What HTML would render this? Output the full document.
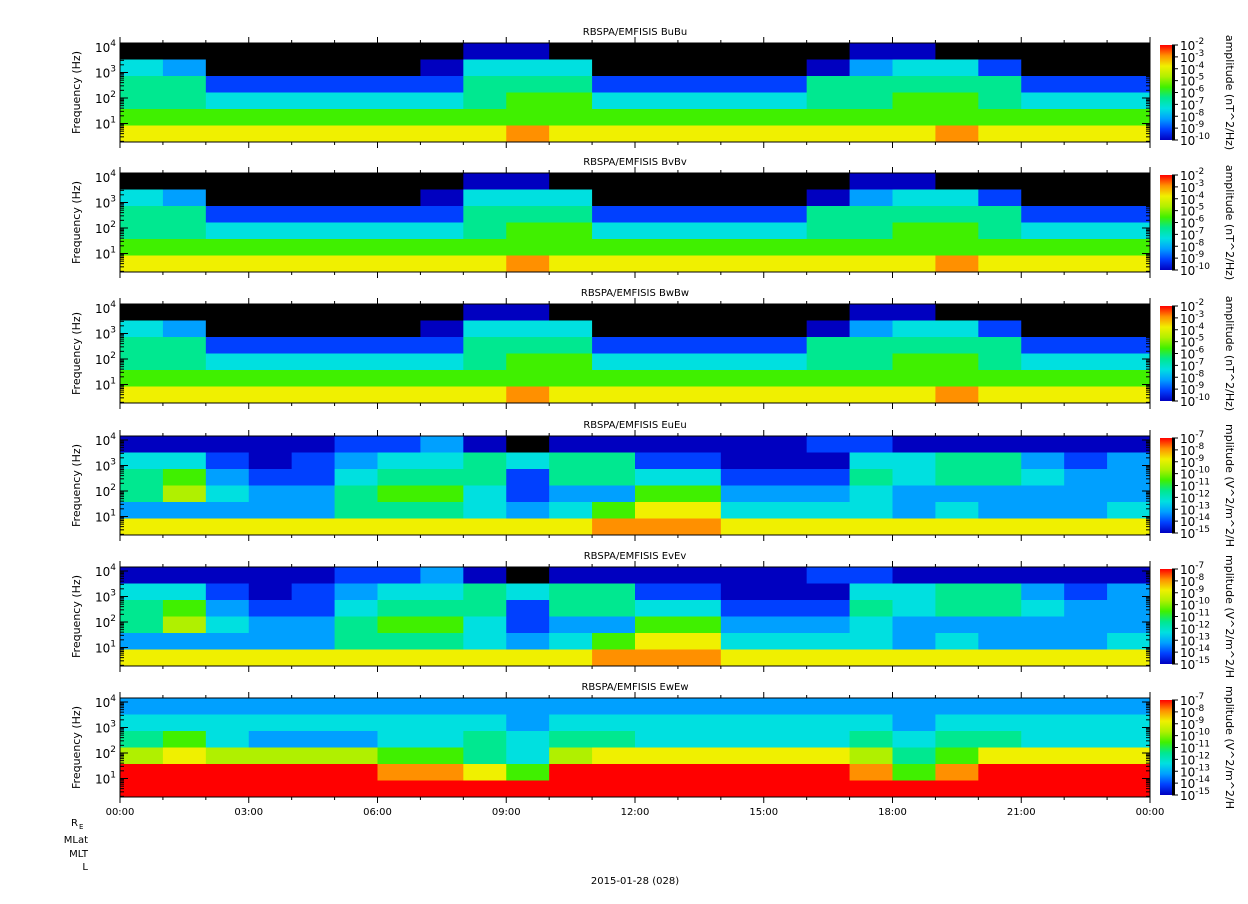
<!DOCTYPE html>
<html><head><meta charset="utf-8"><style>
body{margin:0;background:#fff;width:1248px;height:899px;overflow:hidden;font-family:"Liberation Sans",sans-serif}
svg text{font-family:"DejaVu Sans","Liberation Sans",sans-serif;fill:#000}
</style></head><body>
<svg id="chart" width="1248" height="899" xmlns="http://www.w3.org/2000/svg"></svg>
<script>
// time bins (hours), 24 hourly columns; rows top (high freq) to bottom (low freq); values = colour level 0..10
const hours = [0,1,2,3,4,5,6,7,8,9,10,11,12,13,14,15,16,17,18,19,20,21,22,23];
const bRow0 = [0,0,0,0,0,0,0,0,1,1,0,0,0,0,0,0,0,1,1,0,0,0,0,0];
const bRow1 = [4,3,0,0,0,0,0,1,4,4,4,0,0,0,0,0,1,3,4,4,2,0,0,0];
const bRow2 = [5,5,2,2,2,2,2,2,5,5,5,2,2,2,2,2,5,5,5,5,5,2,2,2];
const bRow3 = [5,5,4,4,4,4,4,4,5,6,6,4,4,4,4,4,5,5,6,6,5,4,4,4];
const bRow4 = [6,6,6,6,6,6,6,6,6,6,6,6,6,6,6,6,6,6,6,6,6,6,6,6];
const bRow5 = [8,8,8,8,8,8,8,8,8,9,8,8,8,8,8,8,8,8,8,9,8,8,8,8];
const eRow0 = [1,1,1,1,1,2,2,3,1,0,1,1,1,1,1,1,2,2,1,1,1,1,1,1];
const eRow1 = [4,4,2,1,2,3,4,4,5,4,5,5,2,2,1,1,1,4,4,5,5,3,2,3];
const eRow2 = [5,6,3,2,2,4,5,5,5,2,5,5,4,4,2,2,2,5,4,5,5,4,3,3];
const eRow3 = [5,7,4,3,3,5,6,6,4,2,3,3,6,6,3,3,3,4,3,3,3,3,3,3];
const eRow4 = [3,3,3,3,3,5,5,5,4,3,4,6,8,8,4,4,4,4,3,4,3,3,3,4];
const eRow5 = [8,8,8,8,8,8,8,8,8,8,8,9,9,9,8,8,8,8,8,8,8,8,8,8];
const wRow0 = [3,3,3,3,3,3,3,3,3,3,3,3,3,3,3,3,3,3,3,3,3,3,3,3];
const wRow1 = [4,4,4,4,4,4,4,4,4,3,4,4,4,4,4,4,4,4,3,4,4,4,4,4];
const wRow2 = [5,6,4,3,3,3,4,4,5,4,5,5,4,4,4,4,4,5,4,5,5,4,4,4];
const wRow3 = [7,8,7,7,7,7,6,6,5,4,7,8,8,8,8,8,8,7,5,6,8,8,8,8];
const wRow4 = [10,10,10,10,10,10,9,9,8,6,10,10,10,10,10,10,10,9,6,9,10,10,10,10];
const wRow5 = [10,10,10,10,10,10,10,10,10,10,10,10,10,10,10,10,10,10,10,10,10,10,10,10];
const titles = ["BuBu","BvBv","BwBw","EuEu","EvEv","EwEw"];
const timeTicks = ["00:00","03:00","06:00","09:00","12:00","15:00","18:00","21:00","00:00"];
const bExps = ["-2","-3","-4","-5","-6","-7","-8","-9","-10"];
const eExps = ["-7","-8","-9","-10","-11","-12","-13","-14","-15"];
const freqExps = ["4","3","2","1"];

const grids = {B:[bRow0,bRow1,bRow2,bRow3,bRow4,bRow5],E:[eRow0,eRow1,eRow2,eRow3,eRow4,eRow5],W:[wRow0,wRow1,wRow2,wRow3,wRow4,wRow5]};
const kinds = ["B","B","B","E","E","W"];
const cmap = ["#000000","#0000c0","#0040ff","#00a0ff","#00e0e0","#00e890","#40f000","#b0f000","#f0f000","#ff9000","#ff0000"];
const NS="http://www.w3.org/2000/svg";
const svg=document.getElementById('chart');
const X0=120,W=1030,H=99,tops=[43,173,304,436,567,698];
const xT=h=>X0+h/24*W;
function el(t,a,p){const e=document.createElementNS(NS,t);for(const k in a)e.setAttribute(k,a[k]);(p||svg).appendChild(e);return e;}
const defs=el('defs',{});
const lg=el('linearGradient',{id:'cb',x1:0,y1:1,x2:0,y2:0},defs);
cmap.slice(1).forEach((c,i)=>el('stop',{offset:i/9,'stop-color':c},lg));

tops.forEach((top,p)=>{
  const g=el('g',{});
  
  
  const rows=grids[kinds[p]];const rh=H/rows.length;
  rows.forEach((row,r)=>row.forEach((v,i)=>{
    const c=el('rect',{x:xT(hours[i]),y:top+r*rh,width:W/24+0.5,height:rh+0.5,fill:cmap[v]},g);
    
    
  }));
  el('rect',{x:X0,y:top,width:W,height:H,fill:'none',stroke:'#000','stroke-width':1},g);
  const t=el('text',{x:X0+W/2,y:top-8,'font-size':10,'text-anchor':'middle'},g);
  t.textContent='RBSPA/EMFISIS  '+titles[p];
  
  
  freqExps.forEach((e,i)=>{
    const y=top+4+i*25.5;
    el('line',{x1:X0,x2:X0+8,y1:y,y2:y,stroke:'#000'},g);
    el('line',{x1:X0+W,x2:X0+W-8,y1:y,y2:y,stroke:'#000'},g);
    const lt=el('text',{x:X0-4,y:y+5,'font-size':12,'text-anchor':'end'},g);
    lt.innerHTML='10<tspan dy="-6" font-size="9">'+e+'</tspan>';
    for(let m=2;m<10;m++){const yy=y+25.5-25.5*Math.log10(m);if(yy<top+H){el('line',{x1:X0,x2:X0+4,y1:yy,y2:yy,stroke:'#000'},g);el('line',{x1:X0+W,x2:X0+W-4,y1:yy,y2:yy,stroke:'#000'},g);}}
  });
  const yl=el('text',{transform:`translate(80,${top+H/2}) rotate(-90)`,'font-size':11,'text-anchor':'middle'},g);
  yl.textContent='Frequency (Hz)';
  for(let h=0;h<=24;h++){const x=xT(h),len=h%3==0?6:3;
    el('line',{x1:x,x2:x,y1:top+H,y2:top+H+len,stroke:'#000'},g);
    el('line',{x1:x,x2:x,y1:top,y2:top-len,stroke:'#000'},g);}
  const cb=el('rect',{x:1160,y:top+2,width:12,height:H-4,fill:'url(#cb)'},g);
  
  
  const ex=kinds[p]=='B'?bExps:eExps;
  ex.forEach((e,i)=>{const y=top+2+i*(H-4)/8;
    el('line',{x1:1172,x2:1178,y1:y,y2:y,stroke:'#000'},g);
    const lt=el('text',{x:1180,y:y+5,'font-size':12},g);
    lt.innerHTML='10<tspan dy="-6" font-size="9">'+e+'</tspan>';});
  el('rect',{x:1172,y:top+2,width:3,height:H-4,fill:'#000'},g);
  const ct=el('text',{transform:`translate(1226,${top+H/2}) rotate(90)`,'font-size':11,'text-anchor':'middle'},g);
  ct.textContent=kinds[p]=='B'?'amplitude (nT^2/Hz)':'mplitude (V^2/m^2/H';
});
timeTicks.forEach((s,i)=>{const t=el('text',{x:xT(i*3),y:815,'font-size':10,'text-anchor':'middle'});t.textContent=s;
  });
[['R',826],['MLat',843],['MLT',857],['L',870]].forEach(([s,y])=>{const t=el('text',{x:s=='R'?78:88,y:y,'font-size':10,'text-anchor':'end'});t.textContent=s;});
const re=el('text',{x:79,y:829,'font-size':7});re.textContent='E';
const d=el('text',{x:635,y:884,'font-size':10,'text-anchor':'middle'});d.textContent='2015-01-28 (028)';

</script>
</body></html>
